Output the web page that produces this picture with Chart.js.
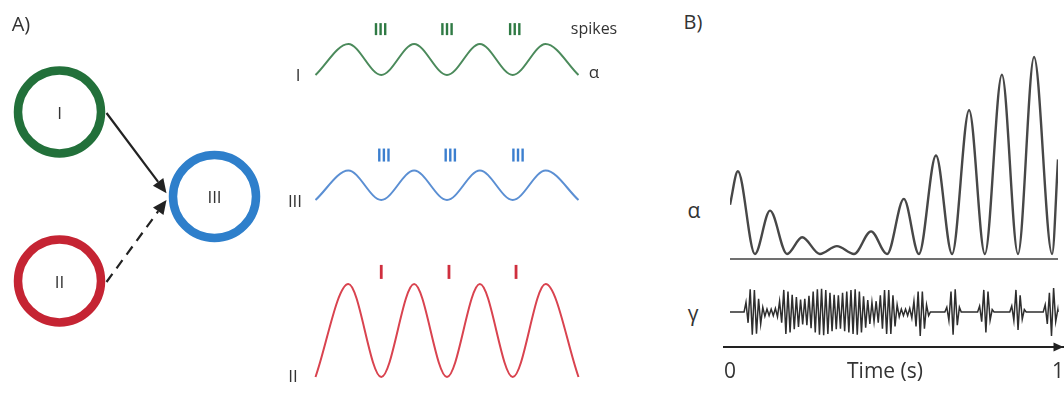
<!DOCTYPE html>
<html>
<head>
<meta charset="utf-8">
<title>Alpha / gamma coupling</title>
<script src="https://cdn.jsdelivr.net/npm/chart.js@4.4.1/dist/chart.umd.min.js"></script>
<style>
  html, body { margin: 0; padding: 0; background: #fff; }
  #figure {
    position: relative; width: 1064px; height: 399px; overflow: hidden;
    font-family: "Open Sans", "DejaVu Sans", sans-serif; color: #333;
  }
  #figure canvas { position: absolute; }
  .lbl { position: absolute; transform: translate(-50%, -50%); white-space: nowrap; line-height: 1; }
</style>
</head>
<body>
<div id="figure">
  <canvas id="net-chart" width="280" height="399" style="left:0;top:0"></canvas>
  <canvas id="wave-i" width="350" height="100" style="left:290px;top:0"></canvas>
  <canvas id="wave-iii" width="350" height="110" style="left:290px;top:110px"></canvas>
  <canvas id="wave-ii" width="350" height="159" style="left:290px;top:240px"></canvas>
  <canvas id="alpha-chart" width="328" height="221" style="left:730px;top:40px"></canvas>
  <canvas id="gamma-chart" width="341" height="113" style="left:723px;top:286px"></canvas>

  <div class="lbl" style="left:21px;top:24px;font-size:20px">A)</div>
  <div class="lbl" style="left:693px;top:22px;font-size:20px">B)</div>
  <div class="lbl" style="left:594px;top:28px;font-size:16px">spikes</div>
  <div class="lbl" style="left:594px;top:71px;font-size:17px">α</div>
  <div class="lbl" style="left:298px;top:74px;font-size:17px">I</div>
  <div class="lbl" style="left:295px;top:200px;font-size:17px">III</div>
  <div class="lbl" style="left:293px;top:375px;font-size:17px">II</div>
  <div class="lbl" style="left:694px;top:210px;font-size:21px">α</div>
  <div class="lbl" style="left:693px;top:313px;font-size:21px">γ</div>
  <div class="lbl" style="left:885px;top:370px;font-size:21px">Time (s)</div>
</div>

<script>
// ---- network: three populations, I and II project onto III ----
const nodeNames = ['I', 'II', 'III'];
const nodeX = [0, 0, 1];
const nodeY = [1, -1, 0];
const nodeColors = ['#22703a', '#c52433', '#2e7fcb'];
const linkFrom = [0, 1];
const linkTo = [2, 2];
const linkDashed = [false, true];

// ---- panel A traces: extrema of each alpha cycle (ms) ----
const waveTimes = [0, 50, 100, 150, 200, 250, 300, 350, 400];
const waveI = [0, 1, 0, 1, 0, 1, 0, 1, 0];
const waveIII = [0, 0.95, 0, 0.95, 0, 0.95, 0, 0.95, 0];
const waveII = [0, 3, 0, 3, 0, 3, 0, 3, 0];
const spikesI = [92, 99, 106, 193, 200, 207, 296, 303, 310];
const spikesIII = [97, 104, 111, 198, 205, 212, 301, 308, 315];
const spikesII = [100, 203, 305];

// ---- panel B: alpha envelope (peaks / troughs) ----
const alphaTimes = [0, 24, 76, 122, 174, 220, 274, 326, 378, 430, 479, 530, 576,
                    628, 677, 729, 777, 829, 878, 927, 982, 1000];
const alphaValues = [2.5, 4.2, 0, 2.2, 0, 0.85, 0, 0.4, 0, 1.15, 0, 2.8, 0,
                     5.0, 0, 7.3, 0, 9.1, 0, 10.0, 0, 4.8];

// ---- panel B: gamma trace, one sample per half cycle ----
const gammaTimes = [
  0, 43,
  48.8, 55.2, 61.6, 68.0, 74.4, 80.8, 87.2, 93.6, 100.0, 106.4, 112.8, 119.2, 125.6, 132.0, 138.4, 144.8,
  151.2, 157.6, 164.0, 170.4, 176.8, 183.2, 189.6, 196.0, 202.4, 208.8, 215.2, 221.6, 228.0, 234.4, 240.8, 247.2,
  253.6, 260.0, 266.4, 272.8, 279.2, 285.6, 292.0, 298.4, 304.8, 311.2, 317.6, 324.0, 330.4, 336.8, 343.2, 349.6,
  356.0, 362.4, 368.8, 375.2, 381.6, 388.0, 394.4, 400.8, 407.2, 413.6, 420.0, 426.4, 432.8, 439.2, 445.6, 452.0,
  458.4, 464.8, 471.2, 477.6, 484.0, 490.4, 496.8, 503.2, 509.6, 516.0, 522.4, 528.8, 535.2, 541.6, 548.0, 554.4,
  560.8, 567.2, 573.6, 580.0, 586.4, 592.8, 599.2, 605.6, 611,
  655, 661, 667.4, 673.8, 680.2, 686.6, 693, 699.4, 705,
  755, 761, 767.4, 773.8, 780.2, 786.6, 793, 799.4, 805,
  853, 859, 865.4, 871.8, 878.2, 884.6, 891, 897.4, 903,
  955, 961, 967.4, 973.8, 980.2, 986.6, 993, 999.4, 1000
];
const gammaValues = [
  0, 0,
  0.40, -0.45, 0.95, -0.95, 0.92, -0.90, 0.55, -0.50, 0.20, -0.18, 0.12, -0.15, 0.12, -0.15, 0.15, -0.20,
  0.45, -0.45, 0.92, -0.92, 0.85, -0.85, 0.72, -0.72, 0.62, -0.62, 0.52, -0.52, 0.55, -0.55, 0.68, -0.68,
  0.85, -0.85, 0.95, -0.95, 0.97, -0.97, 0.92, -0.92, 0.80, -0.80, 0.72, -0.72, 0.70, -0.70, 0.80, -0.80,
  0.85, -0.85, 0.92, -0.92, 0.95, -0.95, 0.85, -0.85, 0.65, -0.65, 0.50, -0.50, 0.40, -0.40, 0.45, -0.45,
  0.70, -0.70, 0.92, -0.92, 0.92, -0.92, 0.70, -0.60, 0.30, -0.20, 0.12, -0.15, 0.12, -0.15, 0.15, -0.25,
  0.45, -0.60, 0.85, -1.00, 0.85, -0.70, 0.30, -0.15, 0,
  0, 0.20, -0.35, 0.85, -0.95, 0.95, -0.55, 0.20, 0,
  0, 0.25, -0.40, 0.92, -0.85, 0.85, -0.35, 0.10, 0,
  0, 0.25, -0.35, 0.92, -0.75, 0.70, -0.30, 0.10, 0,
  0, 0.30, -0.50, 0.80, -1.00, 1.00, -0.40, 0.10, 0
];
const timeTicks = [0, 1000];

Chart.defaults.animation = false;
Chart.defaults.events = [];
Chart.defaults.font.family = '"Open Sans", "DejaVu Sans", sans-serif';
Chart.defaults.color = '#333';
Chart.defaults.layout.autoPadding = false;
Chart.defaults.plugins.legend.display = false;
Chart.defaults.plugins.tooltip.enabled = false;

// axis limits that put value 0 at zeroPx inside a box of sizePx
function xRange(zeroPx, sizePx, pxPerUnit) {
  return { min: -zeroPx / pxPerUnit, max: (sizePx - zeroPx) / pxPerUnit };
}
function yRange(zeroPx, sizePx, pxPerUnit) {
  return { min: -(sizePx - zeroPx) / pxPerUnit, max: zeroPx / pxPerUnit };
}

// ---- network diagram ----
const linkPlugin = {
  id: 'links',
  beforeDatasetsDraw(chart) {
    const { ctx, scales: { x, y } } = chart;
    ctx.save();
    ctx.strokeStyle = '#222';
    ctx.fillStyle = '#222';
    ctx.lineWidth = 2.2;
    linkFrom.forEach((from, i) => {
      const to = linkTo[i];
      const sx = x.getPixelForValue(nodeX[from]) + 47;
      const sy = y.getPixelForValue(nodeY[from]) + 1;
      const tx = x.getPixelForValue(nodeX[to]) - 48;
      const cy = y.getPixelForValue(nodeY[to]);
      const ty = cy + (sy - cy) * 0.04;
      const ang = Math.atan2(ty - sy, tx - sx);
      const head = 14, half = 6.5;
      const bx = tx - head * Math.cos(ang), by = ty - head * Math.sin(ang);

      ctx.setLineDash(linkDashed[i] ? [10, 7] : []);
      ctx.beginPath();
      ctx.moveTo(sx, sy);
      ctx.lineTo(bx, by);
      ctx.stroke();

      ctx.setLineDash([]);
      ctx.beginPath();
      ctx.moveTo(tx, ty);
      ctx.lineTo(bx + half * Math.sin(ang), by - half * Math.cos(ang));
      ctx.lineTo(bx - half * Math.sin(ang), by + half * Math.cos(ang));
      ctx.closePath();
      ctx.fill();
    });
    ctx.restore();
  }
};

const nodeLabelPlugin = {
  id: 'nodeLabels',
  afterDatasetsDraw(chart) {
    const { ctx, scales: { x, y } } = chart;
    ctx.save();
    ctx.font = '17px "Open Sans", "DejaVu Sans", sans-serif';
    ctx.fillStyle = '#333';
    ctx.textAlign = 'center';
    ctx.textBaseline = 'middle';
    nodeNames.forEach((name, i) => {
      ctx.fillText(name, x.getPixelForValue(nodeX[i]), y.getPixelForValue(nodeY[i]) + 2);
    });
    ctx.restore();
  }
};

new Chart(document.getElementById('net-chart'), {
  type: 'scatter',
  data: {
    datasets: [{
      data: nodeX.map((v, i) => ({ x: v, y: nodeY[i] })),
      pointRadius: 41.5,
      pointBorderWidth: 8.5,
      pointBackgroundColor: '#fff',
      pointBorderColor: nodeColors,
      clip: false
    }]
  },
  options: {
    responsive: false,
    layout: { padding: 0 },
    scales: {
      x: { type: 'linear', display: false, ...xRange(59.5, 280, 155) },
      y: { type: 'linear', display: false, ...yRange(196.5, 399, 84.5) }
    }
  },
  plugins: [linkPlugin, nodeLabelPlugin]
});

// ---- panel A oscillations with spike marks ----
function waveChart(id, values, spikes, st) {
  const canvas = document.getElementById(id);
  return new Chart(canvas, {
    type: 'line',
    data: {
      datasets: [{
        data: waveTimes.map((t, i) => ({ x: t, y: values[i] })),
        borderColor: st.line,
        borderWidth: 2,
        pointRadius: 0,
        cubicInterpolationMode: 'monotone',
        fill: false
      }, {
        type: 'scatter',
        data: spikes.map(t => ({ x: t, y: st.spikeLevel })),
        pointStyle: 'line',
        pointRotation: 90,
        pointRadius: st.spikeLen / 2,
        pointBorderWidth: st.spikeWidth,
        pointBorderColor: st.spike,
        borderColor: st.spike
      }]
    },
    options: {
      responsive: false,
      layout: { padding: 0 },
      scales: {
        x: { type: 'linear', display: false, ...xRange(25.5, canvas.width, 0.6575) },
        y: { type: 'linear', display: false, ...yRange(st.zeroPx, canvas.height, 31) }
      }
    }
  });
}

waveChart('wave-i', waveI, spikesI,
  { line: '#4b8a5b', spike: '#2f7a44', zeroPx: 75, spikeLevel: 1.48, spikeLen: 12, spikeWidth: 2.4 });
waveChart('wave-iii', waveIII, spikesIII,
  { line: '#5b8fd3', spike: '#3c7fcf', zeroPx: 90, spikeLevel: 1.45, spikeLen: 13, spikeWidth: 2.4 });
waveChart('wave-ii', waveII, spikesII,
  { line: '#d9434f', spike: '#cf2f3e', zeroPx: 137, spikeLevel: 3.39, spikeLen: 14, spikeWidth: 2.8 });

// ---- panel B: alpha ----
new Chart(document.getElementById('alpha-chart'), {
  type: 'line',
  data: {
    datasets: [{
      data: alphaTimes.map((t, i) => ({ x: t, y: alphaValues[i] })),
      borderColor: '#474747',
      borderWidth: 2.4,
      pointRadius: 0,
      cubicInterpolationMode: 'monotone',
      fill: false
    }]
  },
  options: {
    responsive: false,
    layout: { padding: { bottom: 2 } },
    scales: {
      x: {
        type: 'linear', min: 0, max: 1000,
        grid: { display: false, drawTicks: false },
        ticks: { display: false },
        border: { display: true, color: '#707070', width: 2 }
      },
      y: { type: 'linear', display: false, ...yRange(214, 219, 19.7) }
    }
  }
});

// ---- panel B: gamma + time axis ----
const axisArrowPlugin = {
  id: 'axisArrow',
  afterDraw(chart) {
    const { ctx } = chart;
    const s = chart.scales.x;
    const tipX = chart.chartArea.right - 0.5;
    const yy = s.top;
    ctx.save();
    ctx.fillStyle = '#222';
    ctx.beginPath();
    ctx.moveTo(tipX, yy);
    ctx.lineTo(tipX - 10, yy - 4.5);
    ctx.lineTo(tipX - 10, yy + 4.5);
    ctx.closePath();
    ctx.fill();
    ctx.restore();
  }
};

new Chart(document.getElementById('gamma-chart'), {
  type: 'line',
  data: {
    datasets: [{
      data: gammaTimes.map((t, i) => ({ x: t, y: gammaValues[i] })),
      borderColor: '#2e2e2e',
      borderWidth: 1.5,
      pointRadius: 0,
      tension: 0,
      fill: false
    }]
  },
  options: {
    responsive: false,
    layout: { padding: { bottom: 14.8 } },
    scales: {
      x: {
        type: 'linear', min: -21.3, max: 1018.3,
        // tick marks hidden; their length only spaces the labels below the axis
        grid: { display: false, drawTicks: true, tickLength: 12 },
        border: { display: true, color: '#222', width: 2 },
        afterBuildTicks: scale => { scale.ticks = timeTicks.map(v => ({ value: v })); },
        ticks: {
          padding: 0, maxRotation: 0, color: '#333', font: { size: 21 },
          callback: v => String(v / 1000)
        }
      },
      y: { type: 'linear', display: false, ...yRange(26, 61, 24) }
    }
  },
  plugins: [axisArrowPlugin]
});
</script>
</body>
</html>
